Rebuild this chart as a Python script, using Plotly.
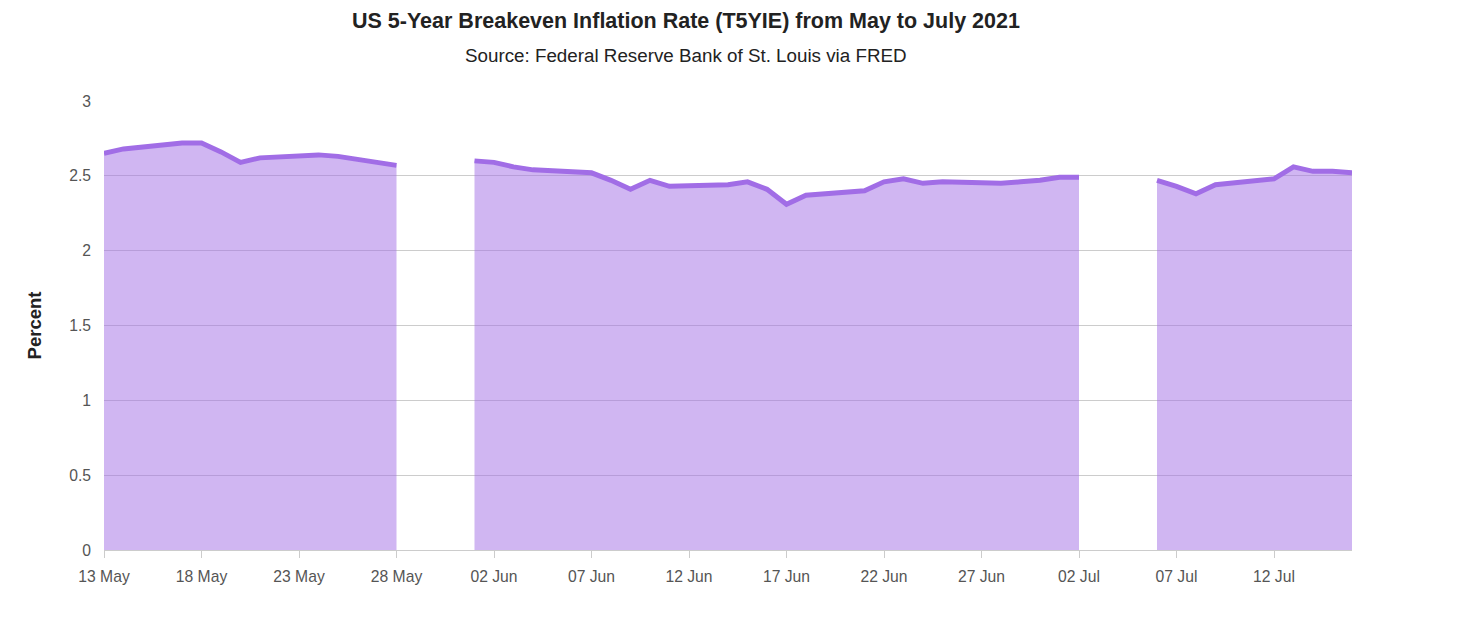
import plotly.graph_objects as go

dates = [
    "2021-05-13", "2021-05-14", "2021-05-17", "2021-05-18", "2021-05-19", "2021-05-20",
    "2021-05-21", "2021-05-24", "2021-05-25", "2021-05-26", "2021-05-27", "2021-05-28",
    "2021-05-31",
    "2021-06-01", "2021-06-02", "2021-06-03", "2021-06-04", "2021-06-07", "2021-06-08",
    "2021-06-09", "2021-06-10", "2021-06-11", "2021-06-14", "2021-06-15", "2021-06-16",
    "2021-06-17", "2021-06-18", "2021-06-21", "2021-06-22", "2021-06-23", "2021-06-24",
    "2021-06-25", "2021-06-28", "2021-06-29", "2021-06-30", "2021-07-01", "2021-07-02",
    "2021-07-05",
    "2021-07-06", "2021-07-07", "2021-07-08", "2021-07-09", "2021-07-12", "2021-07-13",
    "2021-07-14", "2021-07-15", "2021-07-16",
]
values = [
    2.65, 2.68, 2.72, 2.72, 2.66, 2.59,
    2.62, 2.64, 2.63, 2.61, 2.59, 2.57,
    None,
    2.60, 2.59, 2.56, 2.54, 2.52, 2.47,
    2.41, 2.47, 2.43, 2.44, 2.46, 2.41,
    2.31, 2.37, 2.40, 2.46, 2.48, 2.45,
    2.46, 2.45, 2.46, 2.47, 2.49, 2.49,
    None,
    2.47, 2.43, 2.38, 2.44, 2.48, 2.56,
    2.53, 2.53, 2.52,
]

title_text = "US 5-Year Breakeven Inflation Rate (T5YIE) from May to July 2021"
subtitle_text = "Source: Federal Reserve Bank of St. Louis via FRED"
y_label = "Percent"

FONT = "Liberation Sans, Arial, sans-serif"
LINE = "#A16DE6"

# split the series at missing values (holidays) so each segment is filled separately
segments = []
cur_x, cur_y = [], []
for d, v in zip(dates, values):
    if v is None:
        if cur_x:
            segments.append((cur_x, cur_y))
        cur_x, cur_y = [], []
    else:
        cur_x.append(d)
        cur_y.append(v)
if cur_x:
    segments.append((cur_x, cur_y))

fig = go.Figure()
for sx, sy in segments:
    fig.add_trace(go.Scatter(
        x=sx, y=sy, mode="lines",
        line=dict(color=LINE, width=5),
        fill="tozeroy", fillcolor="rgba(161,109,230,0.5)",
        hoverinfo="x+y", name="T5YIE",
    ))

fig.update_layout(
    width=1442, height=625,
    margin=dict(l=96, r=98, t=93, b=83),
    paper_bgcolor="white", plot_bgcolor="white",
    showlegend=False,
    font=dict(family=FONT, size=15.7, color="#555"),
    xaxis=dict(
        type="date",
        range=["2021-05-13", "2021-07-16"],
        tick0="2021-05-13", dtick=5 * 86400000,
        tickformat="%d %b",
        showgrid=False,
        showline=True, linecolor="#ccc", linewidth=1,
        ticks="outside", ticklen=7, tickcolor="#ccc",
        tickfont=dict(size=15.7, color="#555"),
        ticklabelstandoff=5,
        zeroline=False,
    ),
    yaxis=dict(
        range=[0, 3], dtick=0.5,
        showgrid=True, gridcolor="#ccc", gridwidth=1,
        zeroline=False, showline=False,
        ticks="", tickfont=dict(size=15.7, color="#555"),
        ticklabelstandoff=12,
        title=dict(text="<b>" + y_label + "</b>", font=dict(size=18.5, color="#222"), standoff=22),
    ),
    annotations=[
        dict(text="<b>" + title_text + "</b>", xref="paper", yref="paper",
             x=0.4665, y=1, yshift=80, xanchor="center", yanchor="middle",
             showarrow=False, font=dict(size=21.5, color="#222", family=FONT)),
        dict(text=subtitle_text, xref="paper", yref="paper",
             x=0.4665, y=1, yshift=46, xanchor="center", yanchor="middle",
             showarrow=False, font=dict(size=18.8, color="#222", family=FONT)),
    ],
)

fig.write_html("out.html")
